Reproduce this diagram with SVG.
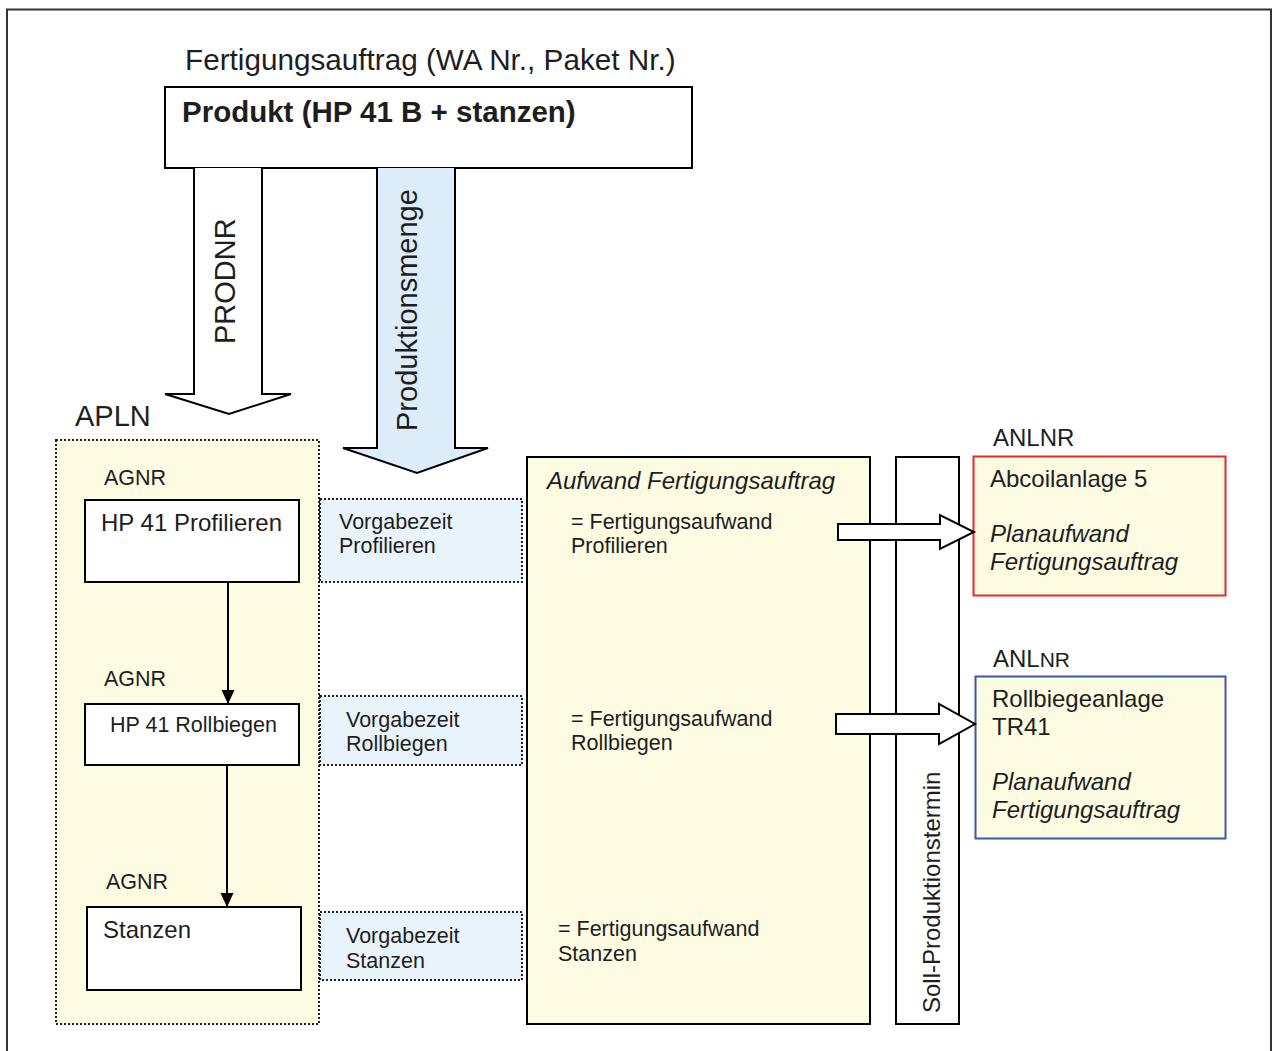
<svg xmlns="http://www.w3.org/2000/svg" width="1272" height="1051" viewBox="0 0 1272 1051">
  <defs>
    <style>
      text { font-family: "Liberation Sans", Arial, sans-serif; fill: #1e1e1e; }
      .box { fill: #ffffff; stroke: #000; stroke-width: 2; }
      .pale { fill: #fdfbe2; }
      .frame { fill: #fdfbe2; stroke: #000; stroke-width: 2; }
      .dotted-y { fill: #fdfbe2; stroke: #222; stroke-width: 2; stroke-dasharray: 2 2; }
      .dotted-b { fill: #e8f3fb; stroke: #222; stroke-width: 2; stroke-dasharray: 2 2; }
      .fat { fill: #ffffff; stroke: #000; stroke-width: 2; stroke-linejoin: miter; }
      .fat-b { fill: #dcecf9; stroke: #000; stroke-width: 2; }
      .flow { stroke: #000; stroke-width: 2; fill: none; }
      .big { font-size: 29px; }
      .mid { font-size: 24px; }
      .sm { font-size: 21.5px; }
      .it { font-style: italic; }
    </style>
    <marker id="tri" markerWidth="14" markerHeight="14" refX="14" refY="7" orient="auto" markerUnits="userSpaceOnUse" viewBox="0 0 14 14">
      <path d="M0,0.5 L14,7 L0,13.5 z" fill="#000"/>
    </marker>
  </defs>

  <!-- outer frame -->
  <rect x="7" y="9.5" width="1264" height="1060" fill="#fff" stroke="#333" stroke-width="2"/>

  <!-- order header -->
  <g id="auftrag">
    <text x="185" y="70" font-size="29.7">Fertigungsauftrag (WA Nr., Paket Nr.)</text>
    <rect x="165" y="87" width="527" height="81" class="box"/>
    <text x="182" y="122" font-size="29.5" font-weight="bold">Produkt (HP 41 B + stanzen)</text>
  </g>

  <!-- work plan container -->
  <g id="apln">
    <text x="75" y="426" class="big">APLN</text>
    <rect x="56" y="440" width="263" height="584" class="dotted-y"/>
  </g>

  <g id="ag1">
    <text x="104" y="485" class="sm">AGNR</text>
    <rect x="85" y="500" width="214" height="82" class="box"/>
    <text x="101" y="531" class="mid">HP 41 Profilieren</text>
  </g>
  <g id="ag2">
    <text x="104" y="686" class="sm">AGNR</text>
    <rect x="85" y="704" width="214" height="61" class="box"/>
    <text x="110" y="732" class="sm">HP 41 Rollbiegen</text>
  </g>
  <g id="ag3">
    <text x="106" y="889" class="sm">AGNR</text>
    <rect x="87" y="907" width="214" height="83" class="box"/>
    <text x="103" y="938" class="mid">Stanzen</text>
  </g>

  <g id="vz1">
    <rect x="320" y="499" width="202" height="83" class="dotted-b"/>
    <text x="339" y="529" class="sm">Vorgabezeit</text>
    <text x="339" y="553" class="sm">Profilieren</text>
  </g>
  <g id="vz2">
    <rect x="320" y="696" width="202" height="69" class="dotted-b"/>
    <text x="346" y="727" class="sm">Vorgabezeit</text>
    <text x="346" y="751" class="sm">Rollbiegen</text>
  </g>
  <g id="vz3">
    <rect x="320" y="912" width="202" height="68" class="dotted-b"/>
    <text x="346" y="943" class="sm">Vorgabezeit</text>
    <text x="346" y="968" class="sm">Stanzen</text>
  </g>

  <g id="aufwand">
    <rect x="527" y="457" width="343" height="567" class="frame"/>
    <text x="547" y="489" class="mid it">Aufwand Fertigungsauftrag</text>
    <text x="571" y="529" class="sm">= Fertigungsaufwand</text>
    <text x="571" y="553" class="sm">Profilieren</text>
    <text x="571" y="726" class="sm">= Fertigungsaufwand</text>
    <text x="571" y="750" class="sm">Rollbiegen</text>
    <text x="558" y="936" class="sm">= Fertigungsaufwand</text>
    <text x="558" y="961" class="sm">Stanzen</text>
  </g>

  <g id="termin">
    <rect x="896" y="457" width="63" height="567" class="box"/>
    <text transform="translate(940,1013) rotate(-90)" class="mid">Soll-Produktionstermin</text>
  </g>

  <g id="anlage1">
    <text x="993" y="446" class="mid">ANLNR</text>
    <rect x="973.5" y="456.5" width="252" height="139" class="pale" stroke="#e8262b" stroke-width="2"/>
    <text x="990" y="487" class="mid">Abcoilanlage 5</text>
    <text x="990" y="542" class="mid it">Planaufwand</text>
    <text x="990" y="570" class="mid it">Fertigungsauftrag</text>
  </g>

  <g id="anlage2">
    <text x="993" y="667" class="mid">ANL<tspan font-size="21">NR</tspan></text>
    <rect x="975.5" y="676.5" width="250" height="162" class="pale" stroke="#3a59a8" stroke-width="2"/>
    <text x="992" y="707" class="mid">Rollbiegeanlage</text>
    <text x="992" y="735" class="mid">TR41</text>
    <text x="992" y="790" class="mid it">Planaufwand</text>
    <text x="992" y="818" class="mid it">Fertigungsauftrag</text>
  </g>

  <!-- connectors -->
  <g id="connectors">
    <!-- PRODNR block arrow -->
    <path d="M194,168 V394 H165 L229,414 L291,394 H262 V168" class="fat"/>
    <text transform="translate(235,344) rotate(-90)" class="big">PRODNR</text>
    <!-- Produktionsmenge block arrow -->
    <path d="M377,168 V448 H343 L417,473 L488,448 H455 V168" class="fat-b"/>
    <text transform="translate(417,431) rotate(-90)" class="big">Produktionsmenge</text>
    <!-- operation sequence -->
    <line x1="228" y1="582" x2="228" y2="704" class="flow" marker-end="url(#tri)"/>
    <line x1="227" y1="765" x2="227" y2="907" class="flow" marker-end="url(#tri)"/>
    <!-- effort to machines -->
    <path d="M838,524 H940 V515 L974,532 L940,549 V540 H838 Z" class="fat"/>
    <path d="M836,714 H939 V704 L975,724 L939,744 V734 H836 Z" class="fat"/>
  </g>
</svg>
